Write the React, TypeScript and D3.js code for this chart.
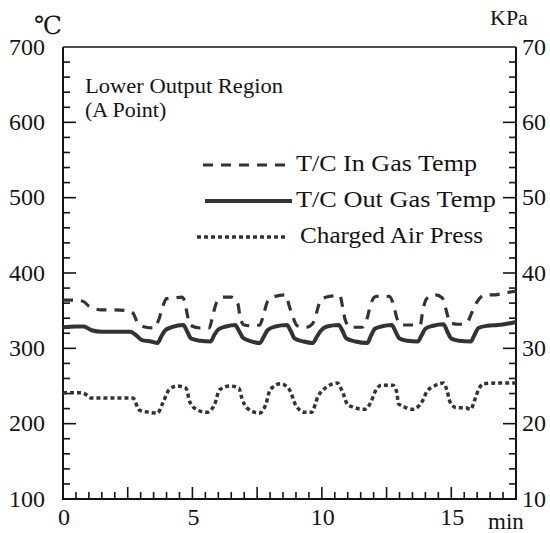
import React from "react";
import * as d3 from "d3";

// ---- data ----
const xMajorTicks = [0, 5, 10, 15];
const leftTickLabels = [100, 200, 300, 400, 500, 600, 700];
const rightTickLabels = [10, 20, 30, 40, 50, 60, 70];

// T/C In Gas Temp (°C)
const inGasTime = [0, 0.5, 0.8, 1.0, 1.5, 2.0, 2.5, 2.7, 2.9, 3.2, 3.5, 3.7, 3.85, 4.0, 4.3, 4.6, 4.7, 4.8, 4.9, 5.3, 5.65, 5.8, 5.95, 6.2, 6.5, 6.75, 6.85, 7.0, 7.3, 7.6, 7.75, 7.9, 8.2, 8.6, 8.75, 8.9, 9.05, 9.4, 9.65, 9.8, 9.95, 10.3, 10.7, 10.8, 10.9, 11.1, 11.55, 11.75, 11.9, 12.1, 12.6, 12.75, 12.9, 13.1, 13.8, 13.9, 14.05, 14.4, 14.65, 14.8, 14.95, 15.3, 15.6, 15.8, 16.0, 16.3, 16.7, 17.0, 17.5];
const inGasTemp = [364, 364, 362, 356, 351, 351, 350, 347, 333, 328, 327, 338, 355, 366, 367, 368, 362, 345, 331, 327, 327, 346, 362, 368, 368, 360, 340, 331, 330, 331, 345, 362, 369, 371, 355, 340, 330, 328, 333, 348, 364, 369, 370, 355, 338, 328, 328, 340, 360, 369, 369, 360, 340, 331, 331, 350, 366, 371, 367, 351, 334, 332, 334, 348, 362, 371, 371, 373, 376];

// T/C Out Gas Temp (°C)
const outGasTime = [0, 0.5, 0.8, 1.1, 1.5, 2.0, 2.6, 2.8, 3.05, 3.4, 3.65, 3.8, 3.95, 4.2, 4.65, 4.8, 4.95, 5.3, 5.7, 5.85, 6.0, 6.3, 6.65, 6.8, 6.95, 7.3, 7.6, 7.75, 7.9, 8.2, 8.65, 8.8, 8.95, 9.3, 9.65, 9.8, 9.95, 10.2, 10.65, 10.8, 10.95, 11.3, 11.75, 11.9, 12.05, 12.3, 12.7, 12.85, 13.0, 13.3, 13.7, 13.85, 14.0, 14.3, 14.7, 14.85, 15.0, 15.3, 15.75, 15.9, 16.05, 16.4, 16.8, 17.2, 17.5];
const outGasTemp = [328, 329, 329, 324, 322, 322, 322, 318, 311, 309, 307, 316, 324, 328, 331, 322, 313, 310, 309, 318, 325, 329, 331, 323, 314, 309, 307, 315, 324, 329, 331, 323, 313, 309, 307, 315, 323, 329, 331, 323, 313, 309, 307, 317, 326, 329, 331, 322, 313, 310, 309, 317, 326, 330, 332, 322, 313, 310, 309, 318, 327, 330, 331, 333, 335];

// Charged Air Press (KPa)
const airTime = [0, 0.75, 1.1, 1.8, 2.45, 2.7, 2.95, 3.35, 3.65, 3.85, 4.1, 4.4, 4.75, 4.9, 5.15, 5.55, 5.85, 6.05, 6.45, 6.8, 6.9, 7.1, 7.6, 7.85, 8.0, 8.4, 8.75, 9.0, 9.35, 9.6, 9.85, 10.2, 10.6, 10.8, 11.0, 11.2, 11.65, 11.9, 12.05, 12.3, 12.75, 12.9, 12.95, 13.2, 13.5, 13.9, 14.05, 14.4, 14.7, 14.85, 14.95, 15.2, 15.55, 15.75, 15.9, 16.05, 16.25, 16.8, 17.3, 17.5];
const airPress = [24.1, 24.1, 23.4, 23.4, 23.4, 23.4, 21.8, 21.5, 21.4, 22.7, 24.5, 25.0, 24.7, 22.9, 21.9, 21.5, 22.5, 24.5, 25.0, 24.7, 23.5, 22.1, 21.4, 22.7, 24.5, 25.3, 24.5, 22.4, 21.5, 21.5, 23.6, 24.9, 25.4, 24.2, 22.5, 22.2, 21.9, 22.9, 24.2, 25.1, 25.1, 24.1, 22.7, 22.2, 21.9, 23.1, 24.2, 25.1, 25.4, 24.2, 22.9, 22.1, 22.1, 21.9, 23.1, 24.5, 25.3, 25.4, 25.4, 25.4];

const legendLabels = ["T/C In Gas Temp", "T/C Out Gas Temp", "Charged Air Press"];
const titleLines = ["Lower Output Region", "(A Point)"];

const FONT = "Liberation Serif, DejaVu Serif, serif";
const INK = "#141414";
const LINE = "#333333";

export default function App() {
  const x = d3.scaleLinear().domain([0, 17.5]).range([63, 516]);
  const yT = d3.scaleLinear().domain([100, 700]).range([499, 47]);
  const yP = d3.scaleLinear().domain([10, 70]).range([499, 47]);

  const lineT = d3
    .line<[number, number]>()
    .x((d) => x(d[0]))
    .y((d) => yT(d[1]))
    .curve(d3.curveMonotoneX);
  const lineP = d3
    .line<[number, number]>()
    .x((d) => x(d[0]))
    .y((d) => yP(d[1]))
    .curve(d3.curveMonotoneX);

  const inData = inGasTime.map((t, i) => [t, inGasTemp[i]] as [number, number]);
  const outData = outGasTime.map((t, i) => [t, outGasTemp[i]] as [number, number]);
  const airData = airTime.map((t, i) => [t, airPress[i]] as [number, number]);

  const x0 = x(0), x1 = x(17.5), yTop = yT(700), yBot = yT(100);

  const leftMinor = d3.range(120, 700, 20);
  const rightMinor = d3.range(12, 70, 2);
  const bottomMinor = d3.range(0.5, 17.5, 0.5);

  const fs = 24;
  const txt = { fontFamily: FONT, fill: INK } as React.CSSProperties;

  return (
    <svg
      width={550}
      height={533}
      style={{ position: "absolute", left: 0, top: 0, background: "#fff" }}
    >
      <rect x={0} y={0} width={550} height={533} fill="#fff" />
      {/* frame */}
      <line x1={x0} y1={yTop} x2={x1} y2={yTop} stroke={INK} strokeWidth={1.6} />
      <line x1={x0} y1={yTop} x2={x0} y2={yBot} stroke={INK} strokeWidth={2} />
      <line x1={x1} y1={yTop} x2={x1} y2={yBot} stroke={INK} strokeWidth={2} />
      <line x1={x0 - 1} y1={yBot} x2={x1 + 1} y2={yBot} stroke={INK} strokeWidth={2} />

      {/* left ticks */}
      {leftMinor.map((v) => (
        <line
          key={"l" + v}
          x1={x0}
          x2={x0 + (v % 100 === 0 ? 13 : 7)}
          y1={yT(v)}
          y2={yT(v)}
          stroke={INK}
          strokeWidth={1.6}
        />
      ))}
      {/* right ticks */}
      {rightMinor.map((v) => (
        <line
          key={"r" + v}
          x1={x1}
          x2={x1 - (v % 10 === 0 ? 13 : 7)}
          y1={yP(v)}
          y2={yP(v)}
          stroke={INK}
          strokeWidth={1.6}
        />
      ))}
      {/* bottom ticks */}
      {bottomMinor.map((v) => (
        <line
          key={"b" + v}
          x1={x(v)}
          x2={x(v)}
          y1={yBot}
          y2={yBot - (Math.abs(v / 2.5 - Math.round(v / 2.5)) < 1e-6 ? 12 : 7)}
          stroke={INK}
          strokeWidth={1.6}
        />
      ))}

      {/* tick labels */}
      {leftTickLabels.map((v) => (
        <text key={"lt" + v} x={45} y={yT(v) + 7.5} textAnchor="end" fontSize={fs} style={txt}>
          {v}
        </text>
      ))}
      {rightTickLabels.map((v) => (
        <text key={"rt" + v} x={x1 + 6} y={yP(v) + 7.5} textAnchor="start" fontSize={fs} style={txt}>
          {v}
        </text>
      ))}
      {xMajorTicks.map((v) => (
        <text key={"xt" + v} x={x(v) + 1} y={525} textAnchor="middle" fontSize={fs} style={txt}>
          {v}
        </text>
      ))}
      <text x={488} y={529} fontSize={23} style={txt}>
        min
      </text>
      <text x={34} y={34} fontSize={25} style={txt}>
        ℃
      </text>
      <text x={490} y={25} fontSize={22} style={txt}>
        KPa
      </text>

      {/* title */}
      <text x={85} y={93} fontSize={22} style={txt} textLength={198} lengthAdjust="spacingAndGlyphs">
        {titleLines[0]}
      </text>
      <text x={85} y={117} fontSize={22} style={txt}>
        {titleLines[1]}
      </text>

      {/* series */}
      <path d={lineT(inData) || ""} fill="none" stroke={LINE} strokeWidth={3.2} strokeDasharray="10,8" />
      <path d={lineT(outData) || ""} fill="none" stroke={LINE} strokeWidth={4} />
      <path d={lineP(airData) || ""} fill="none" stroke={LINE} strokeWidth={3.5} strokeDasharray="4,3" />

      {/* legend */}
      <line x1={203} x2={292} y1={165} y2={165} stroke={LINE} strokeWidth={3.2} strokeDasharray="10,8" />
      <text x={296} y={171} fontSize={23} style={txt} textLength={181} lengthAdjust="spacingAndGlyphs">
        {legendLabels[0]}
      </text>
      <line x1={205} x2={292} y1={201} y2={201} stroke={LINE} strokeWidth={4} />
      <text x={296} y={207} fontSize={23} style={txt} textLength={200} lengthAdjust="spacingAndGlyphs">
        {legendLabels[1]}
      </text>
      <line x1={197} x2={288} y1={237} y2={237} stroke={LINE} strokeWidth={3.5} strokeDasharray="4,3" />
      <text x={300} y={243} fontSize={23} style={txt} textLength={183} lengthAdjust="spacingAndGlyphs">
        {legendLabels[2]}
      </text>
    </svg>
  );
}
